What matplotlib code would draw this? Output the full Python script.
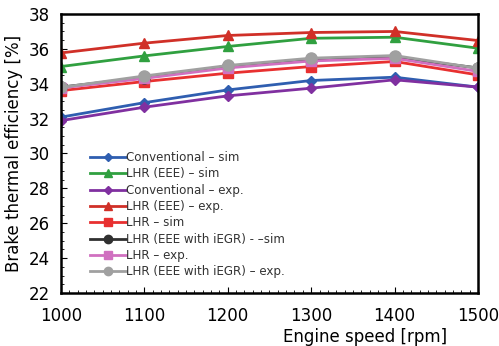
import numpy as np
import matplotlib.pyplot as plt
from matplotlib.ticker import MultipleLocator

# engine speed [rpm]
speed = [1000, 1100, 1200, 1300, 1400, 1500]

conv_sim = [32.08, 32.91, 33.64, 34.18, 34.37, 33.80]
eee_sim = [34.98, 35.59, 36.13, 36.60, 36.66, 36.03]
conv_exp = [31.88, 32.65, 33.30, 33.74, 34.22, 33.80]
eee_exp = [35.76, 36.32, 36.76, 36.93, 36.99, 36.47]
lhr_sim = [33.60, 34.12, 34.60, 34.98, 35.27, 34.50]
iegr_sim = [33.80, 34.35, 35.00, 35.35, 35.50, 34.90]
lhr_exp = [33.75, 34.30, 34.90, 35.30, 35.45, 34.70]
iegr_exp = [33.78, 34.44, 35.04, 35.46, 35.61, 34.88]

labels = ["Conventional \u2013 sim", "LHR (EEE) \u2013 sim", "Conventional \u2013 exp.",
          "LHR (EEE) \u2013 exp.", "LHR \u2013 sim", "LHR (EEE with iEGR) - \u2013sim",
          "LHR \u2013 exp.", "LHR (EEE with iEGR) \u2013 exp."]
series = [conv_sim, eee_sim, conv_exp, eee_exp, lhr_sim, iegr_sim, lhr_exp, iegr_exp]
colors = ["#2f5eb0", "#30a040", "#8030a0", "#d03028", "#e83030", "#303030", "#d070c0", "#a0a0a0"]
markers = ["D", "^", "D", "^", "s", "o", "s", "o"]
msizes = [5, 7, 5, 7, 7, 8, 7, 8]

fig = plt.figure(figsize=(4.99, 3.46), dpi=100)
ax = fig.add_axes([0.122, 0.153, 0.836, 0.807])

for ys, lab, c, m, ms in zip(series, labels, colors, markers, msizes):
    ax.plot(speed, ys, color=c, marker=m, markersize=ms, linewidth=2, label=lab)

ax.set_xlim(1000, 1500)
ax.set_ylim(22, 38)
ax.xaxis.set_major_locator(MultipleLocator(100))
ax.xaxis.set_minor_locator(MultipleLocator(10))
ax.yaxis.set_major_locator(MultipleLocator(2))
ax.yaxis.set_minor_locator(MultipleLocator(0.5))
ax.tick_params(which="both", direction="in", top=False, right=False, labelsize=12)
ax.tick_params(which="major", length=4)
ax.tick_params(which="minor", length=2)
ax.tick_params(axis="x", pad=10)
ax.tick_params(axis="y", pad=8)
for s in ax.spines.values():
    s.set_linewidth(1.8)

ax.set_ylabel("Brake thermal efficiency [%]", fontsize=12, labelpad=4)
ax.set_xlabel("Engine speed [rpm]", fontsize=12, labelpad=0)
ax.xaxis.set_label_coords(0.73, -0.125)

leg = ax.legend(loc="upper left", bbox_to_anchor=(0.055, 0.53), frameon=False, fontsize=8.6,
                handlelength=3, handletextpad=0.05, labelspacing=0.28, borderpad=0,
                markerscale=0.75)
for t in leg.get_texts():
    t.set_color("#333333")

fig.savefig("out.png", dpi=100)
